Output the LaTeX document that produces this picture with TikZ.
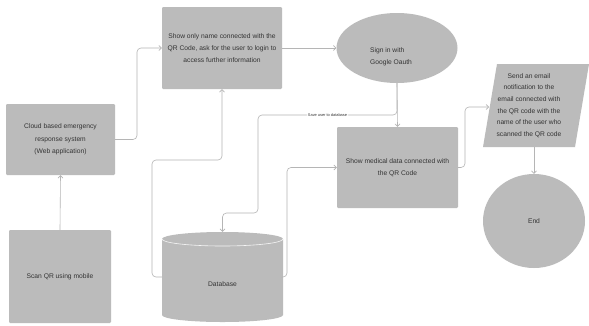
\documentclass[tikz,border=0pt]{standalone}
\usepackage{fontspec}
\setmainfont{Liberation Sans}
\usetikzlibrary{arrows.meta,shapes.geometric}
\definecolor{boxfill}{HTML}{BBBBBB}
\definecolor{linec}{HTML}{B5B5B5}
\definecolor{txt}{HTML}{333333}
\begin{document}
\begin{tikzpicture}[x=1pt,y=-1pt,
 box/.style={draw=none, fill=boxfill, rounded corners=1.2pt, align=center, text=txt, font=\fontsize{6.7}{12.3}\selectfont, inner sep=0pt},
 plain/.style={align=center, text=txt, font=\fontsize{6.7}{12.3}\selectfont, inner sep=0pt},
 conn/.style={draw=linec, line width=0.6pt, rounded corners=4pt, -{Straight Barb[length=2.5pt,width=5pt]}},
 lbl/.style={fill=white, text=txt, font=\fontsize{3.9}{4}\selectfont, inner sep=1pt},
]
\useasboundingbox (0,0) rectangle (589,325);
\fill[white] (0,0) rectangle (589,325);

\node[box, minimum width=120pt, minimum height=82pt] (show) at (222,48) {Show only name connected with the\\QR Code, ask for the user to login to\\access further information};
\node[box, minimum width=109pt, minimum height=71pt] (cloud) at (60.5,139.5) {Cloud based emergency\\response system\\(Web application)};
\node[box, minimum width=102pt, minimum height=93pt] (scan) at (60,276.5) {Scan QR using mobile};
\node[box, ellipse, minimum width=121pt, minimum height=70pt] (sign) at (397,48) {};
\node[plain, align=left] (signt) at (391,57) {Sign in with\\Google Oauth};
\node[box, minimum width=121pt, minimum height=81pt] (med) at (397.5,167.5) {Show medical data connected with\\the QR Code};
\node[box, ellipse, minimum width=102pt, minimum height=94pt] (end) at (534,221) {End};

% parallelogram
\fill[boxfill] (497,64) -- (589,64) -- (575,147) -- (483,147) -- cycle;
\node[plain, minimum width=92pt, minimum height=83pt, font=\fontsize{6.7}{11.7}\selectfont] (para) at (529,105.5) {Send an email\\notification to the\\email connected with\\the QR code with the\\name of the user who\\scanned the QR code};
\coordinate (paral) at (489,107);

% database cylinder
\node[minimum width=121pt, minimum height=90pt, inner sep=0pt] (db) at (222.5,277) {};
\fill[boxfill] (162,239) -- (162,315) arc[start angle=180, end angle=0, x radius=60.5, y radius=7] -- (283,239) arc[start angle=0, end angle=-180, x radius=60.5, y radius=7] -- cycle;
\draw[white!85!boxfill, line width=0.6pt] (162,239) arc[start angle=180, end angle=0, x radius=60.5, y radius=7];
\node[plain] (dbt) at (222.5,284) {Database};

% connectors
\draw[conn] (scan.north) -- (cloud.south);
\draw[conn] (cloud.east) -- (137,139.5) |- (show.west);
\draw[conn] (show.east) -- (sign.west);
\draw[conn] (sign.south) -- (med.north);
\draw[conn] (sign.south) -- (397,115) -- node[lbl]{Save user to database} (258,115) -- (258,213) -- (222.5,213) -- (db.north);
\draw[conn] (db.west) -- (152,277) |- (222,160) -- (show.south);
\draw[conn] (db.east) -- (287,277) |- (med.west);
\draw[conn] (med.east) -- (465,167.5) |- (paral);
\draw[conn] (end.north |- para.south) -- (end.north);
\end{tikzpicture}
\end{document}
